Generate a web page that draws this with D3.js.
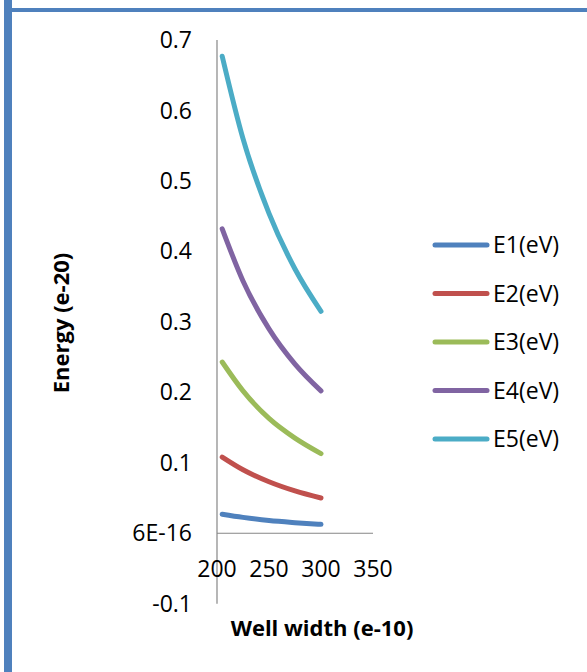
<!DOCTYPE html>
<html>
<head>
<meta charset="utf-8">
<script src="https://cdn.jsdelivr.net/npm/d3@7"></script>
<style>
  body { margin: 0; background: #fff; }
  svg text { font-family: "Open Sans", "Noto Sans", sans-serif; fill: #000; }
</style>
</head>
<body>
<div id="chart"></div>
<script>
// well width (e-10) and energy levels (e-20)
const widths = [205, 225, 250, 275, 300];
const e1 = [0.027, 0.0225, 0.018, 0.015, 0.0126];
const e2 = [0.108, 0.090, 0.073, 0.060, 0.050];
const e3 = [0.243, 0.202, 0.163, 0.135, 0.113];
const e4 = [0.432, 0.358, 0.290, 0.240, 0.202];
const e5 = [0.677, 0.560, 0.454, 0.375, 0.315];

const seriesNames = ["E1(eV)", "E2(eV)", "E3(eV)", "E4(eV)", "E5(eV)"];
const seriesValues = [e1, e2, e3, e4, e5];
const colors = ["#4F81BD", "#C0504D", "#9BBB59", "#8064A2", "#4BACC6"];

const yTicks = [-0.1, 0, 0.1, 0.2, 0.3, 0.4, 0.5, 0.6, 0.7];
const yTickLabels = ["-0.1", "6E-16", "0.1", "0.2", "0.3", "0.4", "0.5", "0.6", "0.7"];
const xTicks = [200, 250, 300, 350];

const dims = {
  width: 587,
  height: 672,
  axisX: 217,
  xEnd: 373,
  yTop: 40,
  yBottom: 603.7,
  stroke: 5
};

const svg = d3.select("#chart")
  .append("svg")
    .attr("width", dims.width)
    .attr("height", dims.height);

// frame: blue left and top borders
svg.append("rect").attr("x", 4).attr("y", 0).attr("width", 8).attr("height", dims.height)
  .attr("fill", "#4F81BD");
svg.append("rect").attr("x", 4).attr("y", 8).attr("width", dims.width - 4).attr("height", 4)
  .attr("fill", "#4F81BD");

const xScale = d3.scaleLinear([200, 350], [dims.axisX, dims.xEnd]);
const yScale = d3.scaleLinear([-0.1, 0.7], [dims.yBottom, dims.yTop]);

const axisG = svg.append("g").attr("class", "axis");
axisG.append("line")
  .attr("x1", dims.axisX).attr("x2", dims.axisX)
  .attr("y1", yScale(0.7)).attr("y2", yScale(-0.1))
  .attr("stroke", "#868686").attr("stroke-width", 1.2);
axisG.append("line")
  .attr("x1", xScale(200)).attr("x2", xScale(350))
  .attr("y1", yScale(0)).attr("y2", yScale(0))
  .attr("stroke", "#868686").attr("stroke-width", 1.2);

axisG.selectAll("text.ytick")
  .data(yTicks)
  .join("text")
    .attr("class", "ytick")
    .attr("x", 192)
    .attr("y", d => yScale(d))
    .attr("dy", "0.35em")
    .attr("text-anchor", "end")
    .attr("font-size", 23)
    .text((d, i) => yTickLabels[i]);

axisG.selectAll("text.xtick")
  .data(xTicks)
  .join("text")
    .attr("class", "xtick")
    .attr("x", d => xScale(d))
    .attr("y", 577)
    .attr("text-anchor", "middle")
    .attr("font-size", 23)
    .text(d => d);

axisG.append("text")
  .attr("x", 322).attr("y", 636)
  .attr("text-anchor", "middle")
  .attr("font-size", 22).attr("font-weight", "bold")
  .text("Well width (e-10)");

axisG.append("text")
  .attr("transform", "translate(69 323) rotate(-90)")
  .attr("text-anchor", "middle")
  .attr("font-size", 22).attr("font-weight", "bold")
  .text("Energy (e-20)");

const line = d3.line()
  .x(d => xScale(d[0]))
  .y(d => yScale(d[1]))
  .curve(d3.curveMonotoneX);

svg.append("g").attr("class", "series")
  .selectAll("path")
  .data(seriesValues)
  .join("path")
    .attr("d", vals => line(vals.map((v, i) => [widths[i], v])))
    .attr("fill", "none")
    .attr("stroke", (d, i) => colors[i])
    .attr("stroke-width", dims.stroke)
    .attr("stroke-linecap", "round")
    .attr("stroke-linejoin", "round");

// legend
const legendG = svg.append("g").attr("class", "legend")
  .selectAll("g")
  .data(seriesNames)
  .join("g")
    .attr("transform", (d, i) => `translate(0 ${245 + i * 48.5})`);
legendG.append("line")
  .attr("x1", 435).attr("x2", 487)
  .attr("stroke", (d, i) => colors[i])
  .attr("stroke-width", dims.stroke)
  .attr("stroke-linecap", "round");
legendG.append("text")
  .attr("x", 493)
  .attr("dy", "0.35em")
  .attr("font-size", 23)
  .text(d => d);
</script>
</body>
</html>
